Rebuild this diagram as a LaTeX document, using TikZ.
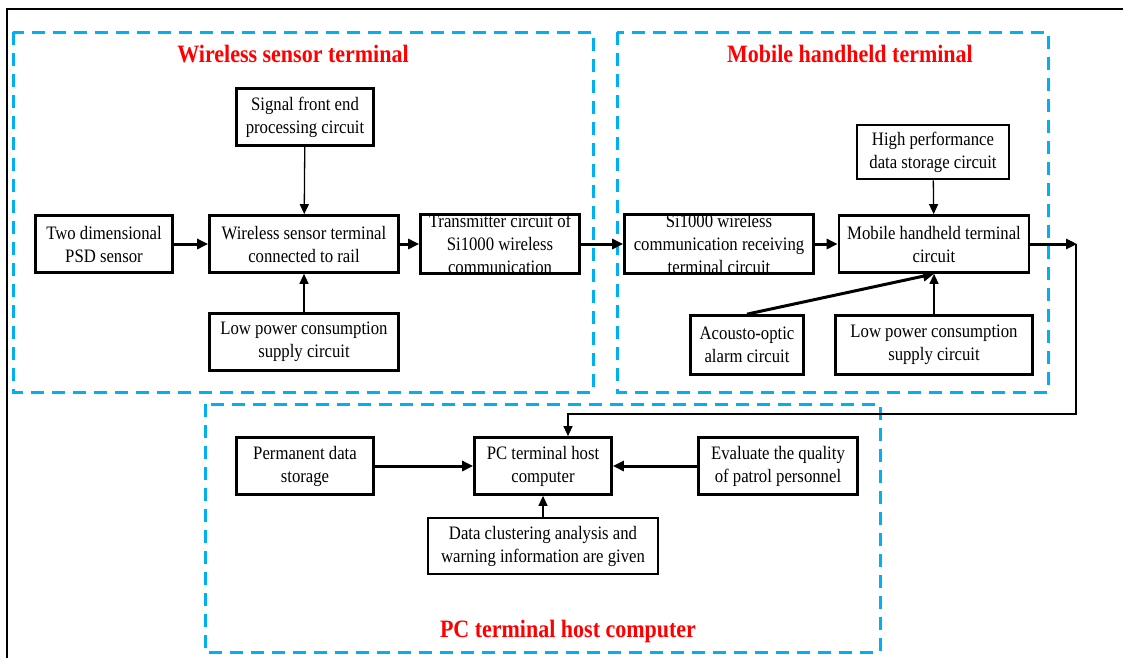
\documentclass[tikz,border=0pt]{standalone}
\usepackage{fontspec}
\setmainfont{Liberation Serif}[FakeStretch=0.88]
\usepackage{tikz}
\usetikzlibrary{arrows.meta,positioning}
\definecolor{frameblue}{RGB}{0,176,240}
\definecolor{titlered}{RGB}{255,0,0}
\tikzstyle{block} = [draw,line width=2.7pt,rectangle,inner sep=0,minimum height=57pt,align=center,font=\fontsize{19}{23}\selectfont]
\tikzstyle{region} = [draw=frameblue,line width=3pt,dash pattern=on 13pt off 8pt]
\tikzstyle{heading} = [text=titlered,font=\fontsize{25}{28}\selectfont\bfseries]
\tikzstyle{feed} = [-{Triangle[length=10pt,width=9pt]},line width=1.3pt]
\tikzstyle{mainfeed} = [-{Triangle[length=11pt,width=10pt]},line width=3pt]
\def \gap {25pt}

\begin{document}
\begin{tikzpicture}[x=1pt,y=-1pt]
      \useasboundingbox (0,0) rectangle (1123,657);
      \draw[line width=2.8pt] (7,662) -- (7,9) -- (1128,9);
      % groups
      \draw[region] (13,32) rectangle (593,392);
      \draw[region] (617,32) rectangle (1048,392);
      \draw[region] (205,404) rectangle (880,652);
      \node[heading] (hsensor) at (293,54) {Wireless sensor terminal};
      \node[heading] (hmobile) at (850,54) {Mobile handheld terminal};
      \node[heading] (hpc) at (568,631) {PC terminal host computer};
      % wireless sensor terminal
      \node[block,minimum width=137pt] (front) at (305,117) {Signal front end\\processing circuit};
      \node[block,minimum width=137pt] (psd) at (104,244) {Two dimensional\\PSD sensor};
      \node[block,minimum width=189pt] (rail) at (304,244) {Wireless sensor terminal\\connected to rail};
      \node[block,minimum width=159pt] (tx) at (500,244) {Transmitter circuit of\\Si1000 wireless\\communication};
      \node[block,minimum width=189pt] (lowa) at (304,342) {Low power consumption\\supply circuit};
      \draw[feed] (front) -- (rail);
      \draw[feed] (lowa) -- (rail);
      \draw[mainfeed] (psd) -- (rail);
      \draw[mainfeed] (rail) -- (tx);
      % mobile handheld terminal
      \node[block,minimum width=189pt] (rx) at (719,244) {Si1000 wireless\\communication receiving\\terminal circuit};
      \node[block,minimum width=190pt] (mobile) at (934,244) {Mobile handheld terminal\\circuit};
      \node[block,minimum width=152pt,minimum height=54pt] (store) at (933,152) {High performance\\data storage circuit};
      \node[block,minimum width=113pt,minimum height=59pt] (alarm) at (747,345) {Acousto-optic\\alarm circuit};
      \node[block,minimum width=197pt,minimum height=59pt] (lowb) at (934,345) {Low power consumption\\supply circuit};
      \draw[mainfeed] (tx) -- (rx);
      \draw[mainfeed] (rx) -- (mobile);
      \draw[feed] (store) -- (mobile);
      \draw[feed] (lowb) -- (mobile);
      \draw[mainfeed] (alarm.north) -- (mobile.south);
      \coordinate (out) at (1077,244);
      \draw[mainfeed] (mobile) -- (out);
      % pc terminal host computer
      \node[block,minimum width=137pt] (perm) at (305,466) {Permanent data\\storage};
      \node[block,minimum width=137pt] (pc) at (543,466) {PC terminal host\\computer};
      \node[block,minimum width=159pt] (judge) at (778,466) {Evaluate the quality\\of patrol personnel};
      \node[block,minimum width=230pt,minimum height=56pt] (cluster) at (543,546) {Data clustering analysis and\\warning information are given};
      \draw[mainfeed] (perm) -- (pc);
      \draw[mainfeed] (judge) -- (pc);
      \draw[feed] (cluster) -- (pc);
      \draw[feed] ([xshift=-1pt]out) -- (1076,414) -| ([xshift=\gap]pc.north);
    \end{tikzpicture}
\end{document}
